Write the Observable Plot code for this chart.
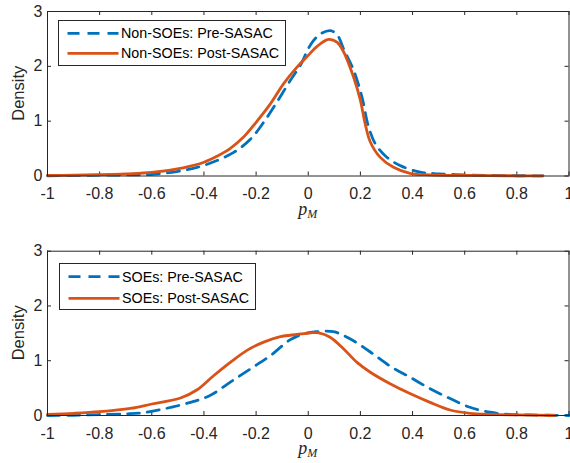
<!DOCTYPE html>
<html><head><meta charset="utf-8">
<script src="https://cdn.jsdelivr.net/npm/d3@7"></script>
<script src="https://cdn.jsdelivr.net/npm/@observablehq/plot@0.6"></script>
<style>
body{margin:0;background:#fff;}
#wrap{width:570px;height:463px;}
#wrap svg{display:block;}
</style>
</head><body><div id="wrap"></div>
<script>
// ---- data ----
const xTicks = [-1, -0.8, -0.6, -0.4, -0.2, 0, 0.2, 0.4, 0.6, 0.8, 1];
const yTicks = [0, 1, 2, 3];

const nonPreX = [-1, -0.9, -0.8, -0.7, -0.6, -0.48, -0.39, -0.286, -0.222, -0.171, -0.12, -0.069, -0.03, 0, 0.02, 0.05, 0.085, 0.11, 0.138, 0.174, 0.206, 0.23, 0.257, 0.295, 0.352, 0.43, 0.5, 0.6, 0.7, 0.8, 0.9];
const nonPreY = [0.005, 0.01, 0.015, 0.02, 0.03, 0.10, 0.21, 0.43, 0.67, 0.98, 1.35, 1.74, 2.02, 2.32, 2.47, 2.6, 2.65, 2.58, 2.29, 1.93, 1.44, 0.92, 0.59, 0.37, 0.19, 0.07, 0.04, 0.02, 0.01, 0.005, 0.003];

const nonPostX = [-1, -0.9, -0.8, -0.7, -0.6, -0.48, -0.4, -0.35, -0.3, -0.25, -0.2, -0.146, -0.095, -0.044, 0, 0.033, 0.078, 0.11, 0.135, 0.174, 0.2, 0.218, 0.238, 0.276, 0.327, 0.39, 0.467, 0.6, 0.75, 0.9];
const nonPostY = [0.01, 0.015, 0.025, 0.04, 0.065, 0.15, 0.25, 0.36, 0.50, 0.70, 0.98, 1.31, 1.68, 1.98, 2.2, 2.36, 2.49, 2.44, 2.27, 1.80, 1.38, 0.96, 0.62, 0.34, 0.16, 0.05, 0.02, 0.01, 0.005, 0.003];

const soePreX = [-1, -0.9, -0.8, -0.7, -0.644, -0.554, -0.452, -0.375, -0.299, -0.222, -0.146, -0.07, -0.018, 0.03, 0.097, 0.16, 0.238, 0.314, 0.39, 0.467, 0.544, 0.62, 0.697, 0.77, 0.85, 0.92, 1.0];
const soePreY = [0.0, 0.005, 0.015, 0.03, 0.045, 0.12, 0.24, 0.37, 0.61, 0.85, 1.09, 1.38, 1.49, 1.53, 1.53, 1.40, 1.16, 0.90, 0.70, 0.49, 0.31, 0.15, 0.06, 0.02, 0.01, 0.005, 0.0];

const soePostX = [-1, -0.9, -0.8, -0.682, -0.6, -0.49, -0.426, -0.362, -0.299, -0.235, -0.171, -0.107, -0.043, 0.01, 0.04, 0.084, 0.135, 0.187, 0.238, 0.314, 0.39, 0.467, 0.544, 0.62, 0.7, 0.8, 0.946];
const soePostY = [0.02, 0.04, 0.07, 0.13, 0.21, 0.32, 0.47, 0.73, 0.97, 1.19, 1.34, 1.44, 1.48, 1.51, 1.51, 1.43, 1.22, 0.97, 0.79, 0.58, 0.40, 0.24, 0.10, 0.04, 0.02, 0.01, 0.0];

const topNames = ["Non-SOEs: Pre-SASAC", "Non-SOEs: Post-SASAC"];
const botNames = ["SOEs: Pre-SASAC", "SOEs: Post-SASAC"];

// ---- styling ----
const BLUE = "#0072BD", ORANGE = "#D95319", AX = "#262626";
const DASH = "12,8", LW = 2.8;
const fmt = d => String(+d.toFixed(1));

function toRows(xs, ys) { return xs.map((x, i) => ({x, y: ys[i]})); }

function panel({pre, post, names, height, marginTop, marginBottom, legendBox}) {
  const W = 570, ml = 47, mr = 1.5;
  const ph = height - marginTop - marginBottom;
  const pw = W - ml - mr;
  const svg = Plot.plot({
    width: W, height, marginLeft: ml, marginRight: mr, marginTop, marginBottom,
    style: {fontFamily: "'Liberation Sans', Arial, sans-serif", fontSize: "16px", color: AX, background: "#fff"},
    x: {domain: [-1, 1]},
    y: {domain: [0, 3]},
    marks: [
      Plot.axisX({ticks: xTicks, tickFormat: fmt, tickSize: 0, tickPadding: 12, label: null, fill: AX}),
      Plot.axisY({ticks: yTicks, tickFormat: fmt, tickSize: 0, tickPadding: 5, label: null, fill: AX}),
      Plot.ruleX(xTicks, {x: d => d, insetTop: ph - 4, stroke: AX}),
      Plot.ruleX(xTicks, {x: d => d, insetBottom: ph - 4, stroke: AX}),
      Plot.ruleY(yTicks, {y: d => d, insetRight: pw - 4, stroke: AX}),
      Plot.ruleY(yTicks, {y: d => d, insetLeft: pw - 4, stroke: AX}),
      Plot.line(pre, {x: "x", y: "y", stroke: BLUE, strokeWidth: LW, strokeDasharray: DASH, curve: "catmull-rom"}),
      Plot.line(post, {x: "x", y: "y", stroke: ORANGE, strokeWidth: LW, curve: "catmull-rom"}),
      Plot.frame({stroke: AX, strokeWidth: 1})
    ]
  });
  const s = d3.select(svg);
  // y label
  s.append("text").attr("transform", `translate(18.5,${marginTop + ph / 2}) rotate(-90)`)
    .attr("text-anchor", "middle").attr("dy", "0.35em")
    .attr("font-family", "'Liberation Sans', Arial, sans-serif").attr("font-size", 16.5)
    .attr("fill", AX).text("Density");
  // x label p_M
  const xl = s.append("text").attr("x", ml + pw / 2).attr("y", marginTop + ph + 39)
    .attr("text-anchor", "middle").attr("font-family", "'Liberation Serif', 'DejaVu Serif', serif")
    .attr("font-style", "italic").attr("fill", AX);
  xl.append("tspan").attr("font-size", 18).text("p");
  xl.append("tspan").attr("font-size", 12).attr("dy", 3).text("M");
  // legend
  const {x, y, w, h, r1, r2} = legendBox;
  const g = s.append("g").attr("text-anchor", "start");
  g.append("rect").attr("x", x).attr("y", y).attr("width", w).attr("height", h)
    .attr("fill", "#fff").attr("stroke", AX).attr("stroke-width", 1);
  const rows = [[r1, BLUE, DASH, names[0]], [r2, ORANGE, null, names[1]]];
  for (const [ry, col, dash, name] of rows) {
    g.append("line").attr("x1", x + 9).attr("x2", x + 60).attr("y1", ry).attr("y2", ry)
      .attr("stroke", col).attr("stroke-width", LW).attr("stroke-dasharray", dash);
    g.append("text").attr("x", x + 62.5).attr("y", ry).attr("dy", "0.35em")
      .attr("text-anchor", "start")
      .attr("font-family", "'Liberation Sans', Arial, sans-serif").attr("font-size", 14.3)
      .attr("fill", "#000").text(name);
  }
  return svg;
}

const wrap = document.getElementById("wrap");
wrap.appendChild(panel({
  pre: toRows(nonPreX, nonPreY), post: toRows(nonPostX, nonPostY), names: topNames,
  height: 232, marginTop: 11, marginBottom: 56.5,
  legendBox: {x: 58.5, y: 20.5, w: 227, h: 45, r1: 33.3, r2: 53.3}
}));
wrap.appendChild(panel({
  pre: toRows(soePreX, soePreY), post: toRows(soePostX, soePostY), names: botNames,
  height: 231, marginTop: 18.7, marginBottom: 48,
  legendBox: {x: 59.5, y: 31.5, w: 196, h: 46, r1: 44.7, r2: 66.3}
}));
</script>
</body></html>
